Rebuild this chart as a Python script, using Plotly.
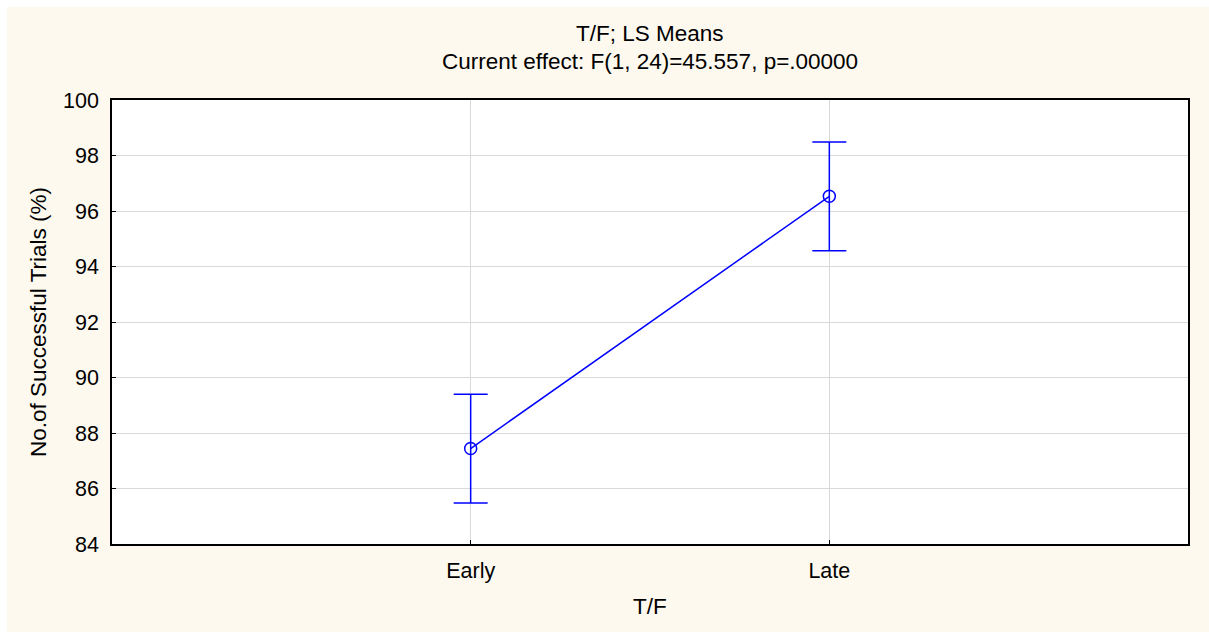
import plotly.graph_objects as go

# LS means of successful trials by T/F phase, with confidence half-widths
phases = ["Early", "Late"]
ls_means = [87.44, 96.53]
ci_half = [1.96, 1.96]

y_ticks = [84, 86, 88, 90, 92, 94, 96, 98, 100]

title_line1 = "T/F; LS Means"
title_line2 = "Current effect: F(1, 24)=45.557, p=.00000"
x_title = "T/F"
y_title = "No.of Successful Trials (%)"

BLUE = "#0000FF"
CREAM = "#FDF9EE"
FONT = "Liberation Sans, Arial, sans-serif"
FS_TEXT = 22.5
FS_TICK = 21.5

W, H = 1209, 632
ML, MR, MT, MB = 112, 21, 100, 88
pw, ph = W - ML - MR, H - MT - MB


def px_x(x):
    return (x - ML) / pw


def px_y(y):
    return (H - MB - y) / ph


fig = go.Figure()
fig.add_trace(go.Scatter(
    x=phases, y=ls_means,
    mode="lines+markers",
    line=dict(color=BLUE, width=1.5),
    marker=dict(symbol="circle-open", size=12, color=BLUE, line=dict(width=1.5, color=BLUE)),
    error_y=dict(type="data", array=ci_half, visible=True, color=BLUE, thickness=1.5, width=17),
    showlegend=False,
    hoverinfo="x+y",
))

# cream backdrop with a thin white margin at top/left, white plotting area on top
fig.add_shape(type="rect", xref="paper", yref="paper", layer="below",
              x0=px_x(7), x1=px_x(W), y0=px_y(H), y1=px_y(7),
              fillcolor=CREAM, line=dict(width=0))
fig.add_shape(type="rect", xref="paper", yref="paper", layer="below",
              x0=0, x1=1, y0=0, y1=1,
              fillcolor="white", line=dict(width=0))

txt_font = dict(family=FONT, size=FS_TEXT, color="black")
fig.add_annotation(text=title_line1, xref="paper", yref="paper", x=0.5,
                   y=px_y(34), yanchor="middle", showarrow=False, font=txt_font)
fig.add_annotation(text=title_line2, xref="paper", yref="paper", x=0.5,
                   y=px_y(62), yanchor="middle", showarrow=False, font=txt_font)
fig.add_annotation(text=x_title, xref="paper", yref="paper", x=0.5,
                   y=px_y(606), yanchor="middle", showarrow=False, font=txt_font)
fig.add_annotation(text=y_title, xref="paper", yref="paper", x=px_x(38),
                   y=0.5, xanchor="center", yanchor="middle", textangle=-90,
                   showarrow=False, font=txt_font)

fig.update_layout(
    width=W, height=H,
    margin=dict(l=ML, r=MR, t=MT, b=MB),
    paper_bgcolor="white",
    plot_bgcolor="white",
    font=dict(family=FONT, size=FS_TICK, color="black"),
    xaxis=dict(
        type="category", range=[-1, 2],
        showgrid=True, gridcolor="#D9D9D9", gridwidth=1,
        showline=True, linecolor="black", linewidth=1.5, mirror=True,
        ticks="inside", ticklen=4, tickcolor="black",
        ticklabelstandoff=6,
        tickfont=dict(size=FS_TICK), zeroline=False,
    ),
    yaxis=dict(
        range=[84, 100], tickvals=y_ticks,
        showgrid=True, gridcolor="#D9D9D9", gridwidth=1,
        showline=True, linecolor="black", linewidth=1.5, mirror=True,
        ticks="inside", ticklen=4, tickcolor="black",
        ticklabelstandoff=7,
        tickfont=dict(size=FS_TICK), zeroline=False,
    ),
)

fig.write_html("out.html")
